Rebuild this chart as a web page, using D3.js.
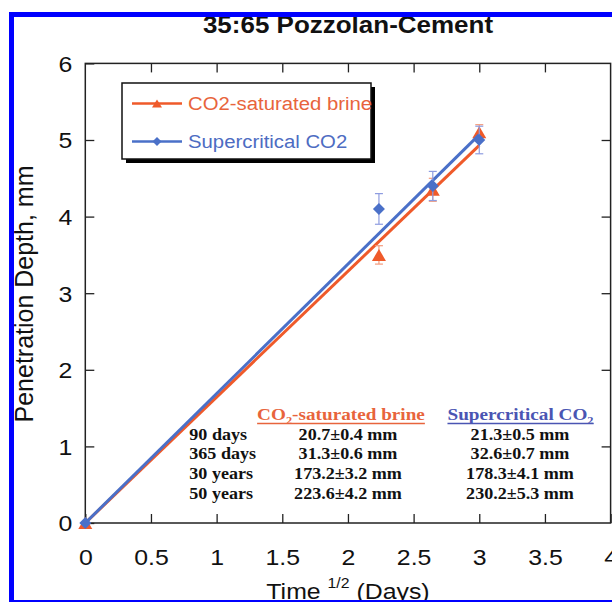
<!DOCTYPE html>
<html><head><meta charset="utf-8">
<script src="https://cdn.jsdelivr.net/npm/d3@7"></script>
<style>html,body{margin:0;padding:0;background:#fff;overflow:hidden}</style>
</head><body><svg id="c" width="612" height="602"></svg>
<script>
// ---- data ----
const timeSqrt   = [0, 2.236, 2.646, 3.0];
const brineDepth = [0, 3.5, 4.35, 5.1];
const brineErr   = [0, 0.12, 0.15, 0.1];
const scDepth    = [0, 4.1, 4.4, 5.0];
const scErr      = [0, 0.2, 0.19, 0.18];
const brineFit   = [[0, 0], [3, 4.93]];
const scFit      = [[0, 0], [3, 5.07]];
const seriesNames = ["CO2-saturated brine", "Supercritical CO2"];
const xTicks = [0, 0.5, 1, 1.5, 2, 2.5, 3, 3.5, 4];
const yTicks = [0, 1, 2, 3, 4, 5, 6];
const tablePeriods = ["90 days", "365 days", "30 years", "50 years"];
const tableBrine = ["20.7±0.4 mm", "31.3±0.6 mm", "173.2±3.2 mm", "223.6±4.2 mm"];
const tableSc    = ["21.3±0.5 mm", "32.6±0.7 mm", "178.3±4.1 mm", "230.2±5.3 mm"];

// ---- style ----
const sx = 1.13;
const ORANGE = "#ef5a2a", BLUE = "#4a70c8";
const ORANGE_T = "#e8643c", BLUE_T = "#4d6cc2", BLUE_H = "#4a55b3";
const ORANGE_E = "#f39a7c", BLUE_E = "#8e9ce0";
const SANS = "'Liberation Sans', Arial, Helvetica, sans-serif";
const SERIF = "'Liberation Serif', 'Times New Roman', serif";

const svg = d3.select("#c");
const xs = d3.scaleLinear().domain([0, 4]).range([85.3, 610.6]);
const ys = d3.scaleLinear().domain([0, 6]).range([523, 63.4]);

function stext(parent, px, py, str, o) {
  const g = parent.append("g").attr("transform", `translate(${px},${py}) scale(${sx},1)`);
  const t = g.append("text").attr("x", 0).attr("y", 0)
    .attr("text-anchor", o.anchor || "start")
    .attr("font-family", o.family || SANS)
    .attr("font-size", o.size)
    .attr("font-weight", o.weight || "normal")
    .attr("fill", o.fill || "#000").text(str);
  return {g, t};
}

// title
stext(svg, 348, 33, "35:65 Pozzolan-Cement", {anchor: "middle", size: 23, weight: "bold", fill: "#111"});

// axes
const fs = 22;
const axB = svg.append("g").attr("transform", `translate(0,${ys(0)})`)
  .call(d3.axisBottom(xs).tickValues(xTicks).tickSizeInner(-9).tickSizeOuter(0).tickPadding(26).tickFormat(d3.format("")));
const axT = svg.append("g").attr("transform", `translate(0,${ys(6)})`)
  .call(d3.axisTop(xs).tickValues(xTicks.slice(1, -1)).tickSizeInner(-9).tickSizeOuter(0).tickFormat(""));
const axL = svg.append("g").attr("transform", `translate(${xs(0)},0)`)
  .call(d3.axisLeft(ys).tickValues(yTicks).tickSizeInner(-9).tickSizeOuter(0).tickPadding(13).tickFormat(d3.format("")));
const axR = svg.append("g").attr("transform", `translate(${xs(4)},0)`)
  .call(d3.axisRight(ys).tickValues(yTicks.slice(1, -1)).tickSizeInner(-9).tickSizeOuter(0).tickFormat(""));
[axB, axT, axL, axR].forEach(a => {
  a.select(".domain").remove();
  a.selectAll(".tick line").attr("stroke", "#222").attr("stroke-width", 1.3);
  a.selectAll("text").attr("font-family", SANS).attr("font-size", fs).attr("fill", "#111");
});
axB.selectAll("text").attr("transform", `scale(${sx},1)`);
axL.selectAll("text").attr("x", -13 / sx).attr("dy", "0.36em").attr("transform", `scale(${sx},1)`);

svg.append("rect").attr("x", xs(0)).attr("y", ys(6)).attr("width", xs(4) - xs(0)).attr("height", ys(0) - ys(6))
  .attr("fill", "none").attr("stroke", "#222").attr("stroke-width", 1.5);

// axis labels
const xl = svg.append("g").attr("transform", `translate(348,599) scale(${sx},1)`)
  .append("text").attr("text-anchor", "middle").attr("font-family", SANS).attr("font-size", 22).attr("fill", "#111");
xl.append("tspan").text("Time ");
xl.append("tspan").attr("font-size", 14).attr("dy", -11).text("1/2");
xl.append("tspan").attr("dy", 11).text(" (Days)");

svg.append("g").attr("transform", `translate(32.5,294) rotate(-90) scale(1,1.03)`)
  .append("text").attr("text-anchor", "middle").attr("font-family", SANS).attr("font-size", 25).attr("fill", "#111")
  .text("Penetration Depth, mm");

// symbols
const tri = (w, h) => `M0,${-h / 2}L${w / 2},${h / 2}L${-w / 2},${h / 2}Z`;
const dia = r => `M0,${-r}L${r},0L0,${r}L${-r},0Z`;

function series(depth, err, fit, color, ecolor, sym) {
  const g = svg.append("g");
  g.append("path").datum(fit).attr("fill", "none").attr("stroke", color).attr("stroke-width", 3)
    .attr("d", d3.line().x(d => xs(d[0])).y(d => ys(d[1])));
  const pts = timeSqrt.map((t, i) => ({t, v: depth[i], e: err[i]}));
  const eb = g.selectAll(".eb").data(pts.filter(d => d.e > 0)).join("g").attr("stroke", ecolor).attr("stroke-width", 1.2);
  eb.append("line").attr("x1", d => xs(d.t)).attr("x2", d => xs(d.t)).attr("y1", d => ys(d.v - d.e)).attr("y2", d => ys(d.v + d.e));
  eb.append("line").attr("x1", d => xs(d.t) - 4).attr("x2", d => xs(d.t) + 4).attr("y1", d => ys(d.v - d.e)).attr("y2", d => ys(d.v - d.e));
  eb.append("line").attr("x1", d => xs(d.t) - 4).attr("x2", d => xs(d.t) + 4).attr("y1", d => ys(d.v + d.e)).attr("y2", d => ys(d.v + d.e));
  g.selectAll(".m").data(pts).join("path").attr("d", sym)
    .attr("transform", d => `translate(${xs(d.t)},${ys(d.v)})`).attr("fill", color);
}
series(brineDepth, brineErr, brineFit, ORANGE, ORANGE_E, tri(14, 12));
series(scDepth, scErr, scFit, BLUE, BLUE_E, dia(6));

// legend
const lg = svg.append("g");
lg.append("rect").attr("x", 126).attr("y", 87).attr("width", 249).attr("height", 76).attr("fill", "#000");
lg.append("rect").attr("x", 122).attr("y", 83).attr("width", 249).attr("height", 76)
  .attr("fill", "#fff").attr("stroke", "#111").attr("stroke-width", 1.5);
const legRows = [
  {name: seriesNames[0], color: ORANGE, tcolor: ORANGE_T, sym: tri(10, 8), yy: 103.5},
  {name: seriesNames[1], color: BLUE, tcolor: BLUE_T, sym: dia(4.5), yy: 141.5}
];
legRows.forEach(r => {
  lg.append("line").attr("x1", 132).attr("x2", 182).attr("y1", r.yy).attr("y2", r.yy).attr("stroke", r.color).attr("stroke-width", 2.5);
  lg.append("path").attr("d", r.sym).attr("transform", `translate(157,${r.yy})`).attr("fill", r.color);
  stext(lg, 188, r.yy + 6.5, r.name, {size: 18, fill: r.tcolor});
});

// table
const tb = svg.append("g");
function header(cx, parts, color) {
  const g = tb.append("g").attr("transform", `translate(${cx},419.5) scale(${sx},1)`);
  const t = g.append("text").attr("text-anchor", "middle").attr("font-family", SERIF).attr("font-size", 17)
    .attr("font-weight", "bold").attr("fill", color);
  t.append("tspan").text(parts[0]);
  t.append("tspan").attr("font-size", 11).attr("dy", 4).text("2");
  t.append("tspan").attr("dy", -4).text(parts[1]);
  const bb = t.node().getBBox();
  g.append("line").attr("x1", bb.x).attr("x2", bb.x + bb.width).attr("y1", 4).attr("y2", 4)
    .attr("stroke", color).attr("stroke-width", 1.4);
}
header(341, ["CO", "-saturated brine"], ORANGE_T);
header(520.5, ["Supercritical CO", ""], BLUE_H);
tablePeriods.forEach((p, i) => {
  const yy = 439.5 + i * 19.7;
  const o = {family: SERIF, size: 16, weight: "bold", fill: "#111"};
  stext(tb, 189.3, yy, p, o);
  stext(tb, 348, yy, tableBrine[i], Object.assign({anchor: "middle"}, o));
  stext(tb, 520, yy, tableSc[i], Object.assign({anchor: "middle"}, o));
});

// blue frame
const fr = svg.append("g").attr("fill", "#0000ff");
fr.append("rect").attr("x", 9).attr("y", 12).attr("width", 603).attr("height", 5);
fr.append("rect").attr("x", 9).attr("y", 12).attr("width", 5).attr("height", 590);
fr.append("rect").attr("x", 9).attr("y", 600).attr("width", 603).attr("height", 2);
</script></body></html>
